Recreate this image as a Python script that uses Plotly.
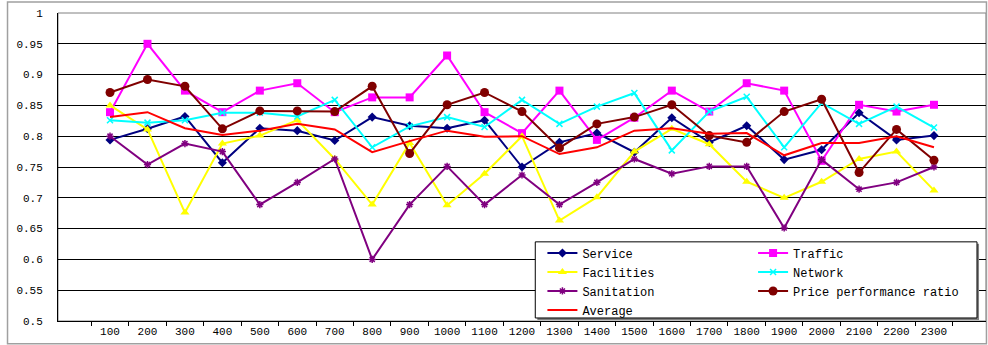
import plotly.graph_objects as go

categories = [str(v) for v in range(100, 2400, 100)]

service = [0.794, 0.812, 0.832, 0.757, 0.813, 0.809, 0.793, 0.831, 0.817, 0.813, 0.826, 0.750,
           0.790, 0.805, 0.774, 0.830, 0.790, 0.817, 0.762, 0.778, 0.838, 0.794, 0.801]
traffic = [0.839, 0.950, 0.874, 0.839, 0.874, 0.886, 0.839, 0.863, 0.863, 0.931, 0.839, 0.805,
           0.874, 0.794, 0.830, 0.874, 0.840, 0.886, 0.874, 0.760, 0.851, 0.840, 0.851]
facilities = [0.850, 0.811, 0.676, 0.788, 0.801, 0.826, 0.763, 0.689, 0.789, 0.688, 0.739, 0.800,
              0.663, 0.701, 0.775, 0.812, 0.787, 0.726, 0.700, 0.726, 0.763, 0.775, 0.712]
network = [0.826, 0.822, 0.826, 0.838, 0.838, 0.832, 0.859, 0.782, 0.816, 0.831, 0.815, 0.859,
           0.820, 0.848, 0.870, 0.777, 0.840, 0.864, 0.782, 0.854, 0.820, 0.848, 0.814]
sanitation = [0.800, 0.754, 0.788, 0.775, 0.689, 0.725, 0.763, 0.600, 0.689, 0.751, 0.689, 0.737,
              0.689, 0.725, 0.763, 0.739, 0.751, 0.751, 0.651, 0.762, 0.714, 0.725, 0.750]
price_ratio = [0.871, 0.892, 0.881, 0.812, 0.841, 0.841, 0.840, 0.881, 0.772, 0.851, 0.871, 0.840,
               0.781, 0.820, 0.831, 0.851, 0.801, 0.790, 0.840, 0.860, 0.741, 0.811, 0.761]
average = [0.831, 0.839, 0.813, 0.802, 0.809, 0.820, 0.811, 0.774, 0.792, 0.809, 0.799, 0.800,
           0.771, 0.782, 0.809, 0.813, 0.804, 0.805, 0.769, 0.789, 0.789, 0.800, 0.782]

y_tick_vals = [0.5, 0.55, 0.6, 0.65, 0.7, 0.75, 0.8, 0.85, 0.9, 0.95, 1.0]
y_tick_text = ["0.5", "0.55", "0.6", "0.65", "0.7", "0.75", "0.8", "0.85", "0.9", "0.95", "1"]

MONO = "Liberation Mono, DejaVu Sans Mono, monospace"

series = [
    ("Service", service, "#000080", "diamond", 7, "legend"),
    ("Traffic", traffic, "#FF00FF", "square", 8, "legend2"),
    ("Facilities", facilities, "#FFFF00", "triangle-up", 8, "legend"),
    ("Network", network, "#00FFFF", "x-thin", 6, "legend2"),
    ("Sanitation", sanitation, "#800080", "asterisk", 6, "legend"),
    ("Price performance ratio", price_ratio, "#800000", "circle", 9, "legend2"),
]

fig = go.Figure()
for name, vals, color, sym, size, leg in series:
    marker = dict(symbol=sym, size=size, color=color)
    if sym in ("x-thin", "asterisk"):
        marker["line"] = dict(color=color, width=1.5)
    else:
        marker["line"] = dict(width=0)
    fig.add_trace(go.Scatter(
        x=categories, y=vals, name=name, mode="lines+markers",
        line=dict(color=color, width=2), marker=marker, legend=leg,
    ))
fig.add_trace(go.Scatter(
    x=categories, y=average, name="Average", mode="lines",
    line=dict(color="#FF0000", width=2), legend="legend",
))

shapes = [
    # plot-area border
    dict(type="rect", xref="paper", yref="paper", x0=0, x1=1, y0=0, y1=1,
         line=dict(color="#808080", width=1), layer="below"),
    # outer chart frame
    dict(type="rect", xref="paper", yref="paper", x0=-0.0544, x1=1.0005, y0=-0.0735, y1=1.036,
         line=dict(color="#A0A0A0", width=1.5), layer="below"),
    # legend shadow
    dict(type="rect", xref="paper", yref="paper", x0=0.5165, x1=0.9925, y0=0.0035, y1=0.2505,
         line=dict(width=0), fillcolor="#808080", layer="above"),
    # legend box
    dict(type="rect", xref="paper", yref="paper", x0=0.5143, x1=0.9903, y0=0.0098, y1=0.257,
         line=dict(color="#000000", width=1), fillcolor="#FFFFFF", layer="above"),
]

leg_common = dict(
    font=dict(family=MONO, size=12, color="#000000"),
    bgcolor="rgba(0,0,0,0)", borderwidth=0,
    yanchor="top", xanchor="left", y=0.268, tracegroupgap=0,
    traceorder="normal",
)

fig.update_layout(
    width=988, height=345,
    margin=dict(l=58, r=2, t=13, b=24),
    paper_bgcolor="#FFFFFF", plot_bgcolor="#FFFFFF",
    font=dict(family=MONO, size=11, color="#000000"),
    showlegend=True,
    legend=dict(x=0.522, **leg_common),
    legend2=dict(x=0.749, **leg_common),
    shapes=shapes,
    xaxis=dict(
        type="category", categoryorder="array", categoryarray=categories,
        showgrid=False, showline=True, linecolor="#000000", linewidth=1,
        ticks="outside", ticklen=4, tickcolor="#000000", tickson="boundaries",
        tickfont=dict(family=MONO, size=11, color="#000000"),
        zeroline=False, fixedrange=True,
    ),
    yaxis=dict(
        range=[0.5, 1.0], tickvals=y_tick_vals, ticktext=y_tick_text,
        showgrid=True, gridcolor="#000000", gridwidth=1,
        showline=True, linecolor="#000000", linewidth=1,
        ticks="", ticklabelstandoff=12,
        tickfont=dict(family=MONO, size=11, color="#000000"),
        zeroline=False, fixedrange=True,
    ),
)

fig.write_html("out.html")
